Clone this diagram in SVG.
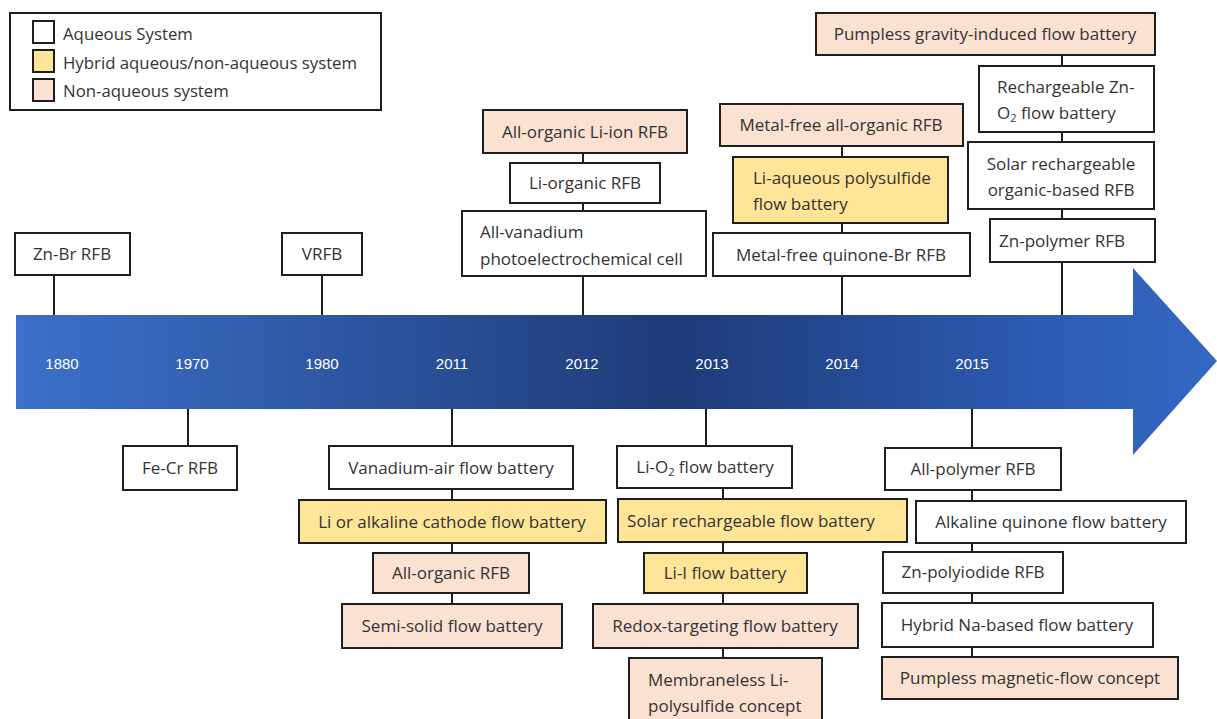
<svg xmlns="http://www.w3.org/2000/svg" width="1217" height="719" viewBox="0 0 1217 719">
<defs>
<linearGradient id="arrowGrad" x1="16" y1="0" x2="1217" y2="0" gradientUnits="userSpaceOnUse">
<stop offset="0" stop-color="#3b71ca"/>
<stop offset="0.55" stop-color="#1f3b78"/>
<stop offset="0.85" stop-color="#2c5bb2"/>
<stop offset="1" stop-color="#3468c4"/>
</linearGradient>
<style>
.b{stroke:#1e1e1e;stroke-width:2;}
.w{fill:#ffffff;}
.p{fill:#fbe1d1;}
.y{fill:#fee597;}
.t{font-family:"Open Sans","Liberation Sans",sans-serif;font-size:17px;fill:#333333;}
.c{text-anchor:middle;}
.yr{font-family:"Liberation Sans",sans-serif;font-size:15px;fill:#ffffff;text-anchor:middle;}
.ln{stroke:#1e1e1e;stroke-width:2;fill:none;}
.lg{font-family:"Open Sans","Liberation Sans",sans-serif;font-size:16.8px;fill:#333333;}
</style>
</defs>
<rect width="1217" height="719" fill="#ffffff"/>

<g id="timeline-arrow">
<path d="M16,315 L1133,315 L1133,268 L1217,361 L1133,455 L1133,409 L16,409 Z" fill="url(#arrowGrad)"/>
<text class="yr" x="62" y="369">1880</text>
<text class="yr" x="192" y="369">1970</text>
<text class="yr" x="322" y="369">1980</text>
<text class="yr" x="452" y="369">2011</text>
<text class="yr" x="582" y="369">2012</text>
<text class="yr" x="712" y="369">2013</text>
<text class="yr" x="842" y="369">2014</text>
<text class="yr" x="972" y="369">2015</text>
</g>

<g id="legend">
<rect x="10" y="13" width="371" height="97" fill="#ffffff" stroke="#1e1e1e" stroke-width="2"/>
<rect class="b w" x="33" y="21" width="21" height="22"/>
<rect class="b y" x="33" y="50" width="21" height="22"/>
<rect class="b p" x="33" y="79" width="21" height="22"/>
<text class="lg" x="63" y="40">Aqueous System</text>
<text class="lg" x="63" y="69">Hybrid aqueous/non-aqueous system</text>
<text class="lg" x="63" y="97">Non-aqueous system</text>
</g>

<g id="connectors">
<line class="ln" x1="54" y1="275" x2="54" y2="315"/>
<line class="ln" x1="322" y1="275" x2="322" y2="315"/>
<line class="ln" x1="583" y1="153" x2="583" y2="315"/>
<line class="ln" x1="842" y1="146" x2="842" y2="315"/>
<line class="ln" x1="1062" y1="55" x2="1062" y2="315"/>
<line class="ln" x1="188" y1="409" x2="188" y2="446"/>
<line class="ln" x1="452" y1="409" x2="452" y2="604"/>
<line class="ln" x1="706" y1="409" x2="706" y2="446"/>
<line class="ln" x1="723" y1="488" x2="723" y2="658"/>
<line class="ln" x1="972" y1="409" x2="972" y2="657"/>
</g>

<g id="zn-br-rfb"><rect class="b w" x="15" y="233" width="115" height="42"/><text class="t c" x="72" y="260">Zn-Br RFB</text></g>
<g id="vrfb"><rect class="b w" x="282" y="233" width="80" height="42"/><text class="t c" x="322" y="260">VRFB</text></g>

<g id="all-organic-li-ion-rfb"><rect class="b p" x="483" y="110" width="204" height="43"/><text class="t c" x="585" y="138">All-organic Li-ion RFB</text></g>
<g id="li-organic-rfb"><rect class="b w" x="510" y="163" width="150" height="40"/><text class="t c" x="585" y="189">Li-organic RFB</text></g>
<g id="all-vanadium-cell"><rect class="b w" x="462" y="211" width="244" height="65"/><text class="t" x="480" y="238">All-vanadium</text><text class="t" x="480" y="265">photoelectrochemical cell</text></g>

<g id="metal-free-all-organic-rfb"><rect class="b p" x="720" y="104" width="243" height="42"/><text class="t c" x="841" y="131">Metal-free all-organic RFB</text></g>
<g id="li-aqueous-polysulfide"><rect class="b y" x="733" y="157" width="215" height="66"/><text class="t" x="753" y="184">Li-aqueous polysulfide</text><text class="t" x="753" y="210">flow battery</text></g>
<g id="metal-free-quinone-br-rfb"><rect class="b w" x="713" y="233" width="257" height="43"/><text class="t c" x="841" y="261">Metal-free quinone-Br RFB</text></g>

<g id="pumpless-gravity"><rect class="b p" x="816" y="13" width="339" height="42"/><text class="t c" x="985" y="40">Pumpless gravity-induced flow battery</text></g>
<g id="rechargeable-zn-o2"><rect class="b w" x="979" y="66" width="175" height="66"/><text class="t" x="997" y="93">Rechargeable Zn-</text><text class="t" x="997" y="119">O<tspan font-size="11" dy="3">2</tspan><tspan dy="-3"> flow battery</tspan></text></g>
<g id="solar-organic-rfb"><rect class="b w" x="968" y="142" width="186" height="67"/><text class="t c" x="1061" y="170">Solar rechargeable</text><text class="t c" x="1061" y="196">organic-based RFB</text></g>
<g id="zn-polymer-rfb"><rect class="b w" x="990" y="219" width="165" height="43"/><text class="t c" x="1062" y="247">Zn-polymer RFB</text></g>

<g id="fe-cr-rfb"><rect class="b w" x="123" y="446" width="114" height="44"/><text class="t c" x="180" y="474">Fe-Cr RFB</text></g>

<g id="vanadium-air"><rect class="b w" x="329" y="446" width="244" height="43"/><text class="t c" x="451" y="474">Vanadium-air flow battery</text></g>
<g id="li-alkaline-cathode"><rect class="b y" x="299" y="500" width="307" height="43"/><text class="t c" x="452" y="528">Li or alkaline cathode flow battery</text></g>
<g id="all-organic-rfb"><rect class="b p" x="373" y="553" width="156" height="40"/><text class="t c" x="451" y="579">All-organic RFB</text></g>
<g id="semi-solid"><rect class="b p" x="342" y="604" width="220" height="44"/><text class="t c" x="452" y="632">Semi-solid flow battery</text></g>

<g id="li-o2"><rect class="b w" x="617" y="446" width="175" height="42"/><text class="t c" x="705" y="473">Li-O<tspan font-size="11" dy="3">2</tspan><tspan dy="-3"> flow battery</tspan></text></g>
<g id="solar-rechargeable-flow"><rect class="b y" x="618" y="499" width="289" height="43"/><text class="t c" x="751" y="527">Solar rechargeable flow battery</text></g>
<g id="li-i"><rect class="b y" x="644" y="553" width="163" height="40"/><text class="t c" x="725" y="579">Li-I flow battery</text></g>
<g id="redox-targeting"><rect class="b p" x="593" y="604" width="265" height="44"/><text class="t c" x="725" y="632">Redox-targeting flow battery</text></g>
<g id="membraneless"><rect class="b p" x="629" y="658" width="193" height="70"/><text class="t" x="648" y="686">Membraneless Li-</text><text class="t" x="648" y="712">polysulfide concept</text></g>

<g id="all-polymer-rfb"><rect class="b w" x="885" y="448" width="176" height="42"/><text class="t c" x="973" y="475">All-polymer RFB</text></g>
<g id="alkaline-quinone"><rect class="b w" x="916" y="501" width="270" height="42"/><text class="t c" x="1051" y="528">Alkaline quinone flow battery</text></g>
<g id="zn-polyiodide"><rect class="b w" x="883" y="552" width="180" height="41"/><text class="t c" x="973" y="578">Zn-polyiodide RFB</text></g>
<g id="hybrid-na"><rect class="b w" x="882" y="603" width="271" height="44"/><text class="t c" x="1017" y="631">Hybrid Na-based flow battery</text></g>
<g id="pumpless-magnetic"><rect class="b p" x="882" y="657" width="296" height="42"/><text class="t c" x="1030" y="684">Pumpless magnetic-flow concept</text></g>
</svg>
